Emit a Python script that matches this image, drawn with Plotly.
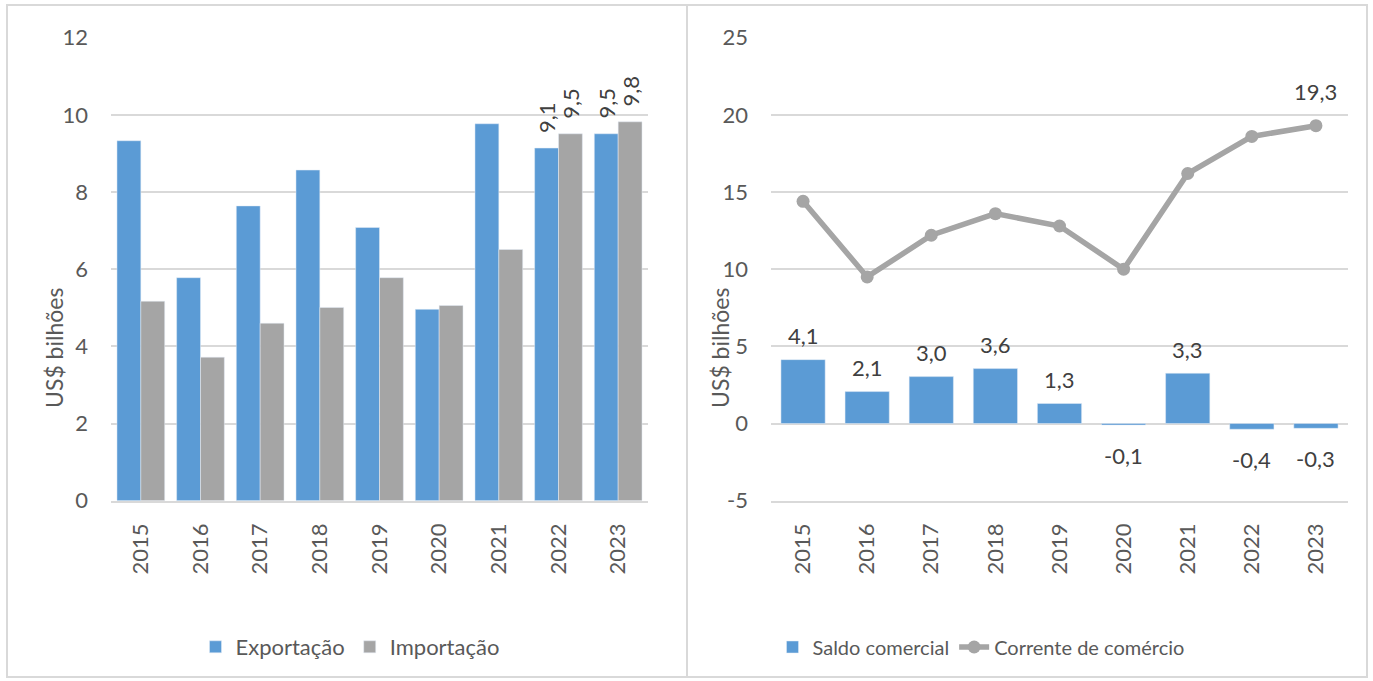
import plotly.graph_objects as go

years = ["2015", "2016", "2017", "2018", "2019", "2020", "2021", "2022", "2023"]
exportacao = [9.33, 5.78, 7.64, 8.57, 7.08, 4.96, 9.77, 9.14, 9.51]
importacao = [5.17, 3.72, 4.60, 5.01, 5.78, 5.06, 6.51, 9.51, 9.82]
saldo = [4.14, 2.07, 3.04, 3.56, 1.30, -0.10, 3.26, -0.37, -0.31]
corrente = [14.4, 9.5, 12.2, 13.6, 12.8, 10.0, 16.2, 18.6, 19.3]
left_ticks = [0, 2, 4, 6, 8, 10, 12]
right_ticks = [-5, 0, 5, 10, 15, 20, 25]
labelled_years = ["2022", "2023"]

BLUE = "#5B9BD5"
GRAY = "#A5A5A5"
GRID = "#D9D9D9"
TICK = "#595959"
LABEL = "#404040"
FONT = "Lato"

W, H = 1373, 681
idx = list(range(len(years)))


def px_x(p):
    return p / W


def px_y(p):
    return 1 - p / H


def fmt(v):
    return f"{v:.1f}".replace(".", ",")


fig = go.Figure()

fig.add_trace(go.Bar(x=idx, y=exportacao, name="Exportação", marker_color=BLUE,
                     xaxis="x", yaxis="y", legend="legend", offsetgroup="a"))
fig.add_trace(go.Bar(x=idx, y=importacao, name="Importação", marker_color=GRAY,
                     xaxis="x", yaxis="y", legend="legend", offsetgroup="b"))
fig.add_trace(go.Bar(x=idx, y=saldo, name="Saldo comercial", marker_color=BLUE, width=0.69,
                     xaxis="x2", yaxis="y2", legend="legend2"))
fig.add_trace(go.Scatter(x=idx, y=corrente, name="Corrente de comércio", mode="lines+markers",
                         line=dict(color=GRAY, width=5.5), marker=dict(color=GRAY, size=13),
                         xaxis="x2", yaxis="y2", legend="legend2"))

annotations = []
# rotated labels on left chart
for series_vals, offset in ((exportacao, -0.2), (importacao, 0.2)):
    for i, (yr, v) in enumerate(zip(years, series_vals)):
        if yr in labelled_years:
            annotations.append(dict(x=i + offset, y=v, xref="x", yref="y", text=fmt(v),
                                    textangle=-90, showarrow=False, yanchor="bottom",
                                    xanchor="center", yshift=13,
                                    font=dict(family=FONT, size=22, color=LABEL)))
# saldo labels
for i, v in enumerate(saldo):
    annotations.append(dict(x=i, y=v, xref="x2", yref="y2", text=fmt(v), showarrow=False,
                            yshift=24 if v >= 0 else -30,
                            font=dict(family=FONT, size=22, color=LABEL)))
# corrente last label
annotations.append(dict(x=idx[-1], y=corrente[-1], xref="x2", yref="y2", text=fmt(corrente[-1]),
                        showarrow=False, yshift=34,
                        font=dict(family=FONT, size=22, color=LABEL)))
# axis titles
for xp in (38, 720):
    annotations.append(dict(x=px_x(xp), y=px_y(348), xref="paper", yref="paper", text="US$ bilhões",
                            textangle=-90, showarrow=False,
                            font=dict(family=FONT, size=23, color=TICK)))

shapes = [
    dict(type="rect", xref="paper", yref="paper", x0=px_x(7), x1=px_x(687), y0=px_y(677), y1=px_y(5),
         line=dict(color=GRID, width=2)),
    dict(type="rect", xref="paper", yref="paper", x0=px_x(687), x1=px_x(1367), y0=px_y(677), y1=px_y(5),
         line=dict(color=GRID, width=2)),
]

xaxis_common = dict(showgrid=False, showline=True, linecolor=GRID, linewidth=2, zeroline=False,
                    ticks="", tickangle=-90, ticklabelstandoff=12, range=[-0.5, 8.5],
                    tickvals=idx, ticktext=years,
                    tickfont=dict(family=FONT, size=22, color=TICK), automargin=False, fixedrange=True)
yaxis_common = dict(showgrid=True, gridcolor=GRID, gridwidth=2, showline=False, ticks="",
                    ticklabelstandoff=22, zeroline=False,
                    tickfont=dict(family=FONT, size=22, color=TICK), automargin=False)

fig.update_layout(
    width=W, height=H,
    margin=dict(l=0, r=0, t=0, b=0, autoexpand=False),
    paper_bgcolor="white", plot_bgcolor="white",
    font=dict(family=FONT, color=TICK),
    barmode="group",
    bargap=0.2, bargroupgap=0,
    separators=",.",
    xaxis=dict(domain=[px_x(111), px_x(648)], anchor="y", **xaxis_common),
    yaxis=dict(domain=[px_y(500.7), px_y(37.7)], anchor="x", range=[0, 12],
               tickvals=left_ticks, ticktext=[str(t) for t in left_ticks], **yaxis_common),
    xaxis2=dict(domain=[px_x(771), px_x(1348)], anchor="y2", **xaxis_common),
    yaxis2=dict(domain=[px_y(500.7), px_y(37.7)], anchor="x2", range=[-5, 25],
                tickvals=right_ticks, ticktext=[str(t) for t in right_ticks], **yaxis_common),
    legend=dict(orientation="h", x=px_x(350), y=px_y(647), xanchor="center", yanchor="middle",
                font=dict(family=FONT, size=22, color=TICK), bgcolor="rgba(0,0,0,0)"),
    legend2=dict(orientation="h", x=px_x(981), y=px_y(647), xanchor="center", yanchor="middle",
                 font=dict(family=FONT, size=20, color=TICK), bgcolor="rgba(0,0,0,0)"),
    annotations=annotations,
    shapes=shapes,
)

fig.write_html("out.html", config={"displayModeBar": False},
               post_script="document.body.style.margin='0';")
